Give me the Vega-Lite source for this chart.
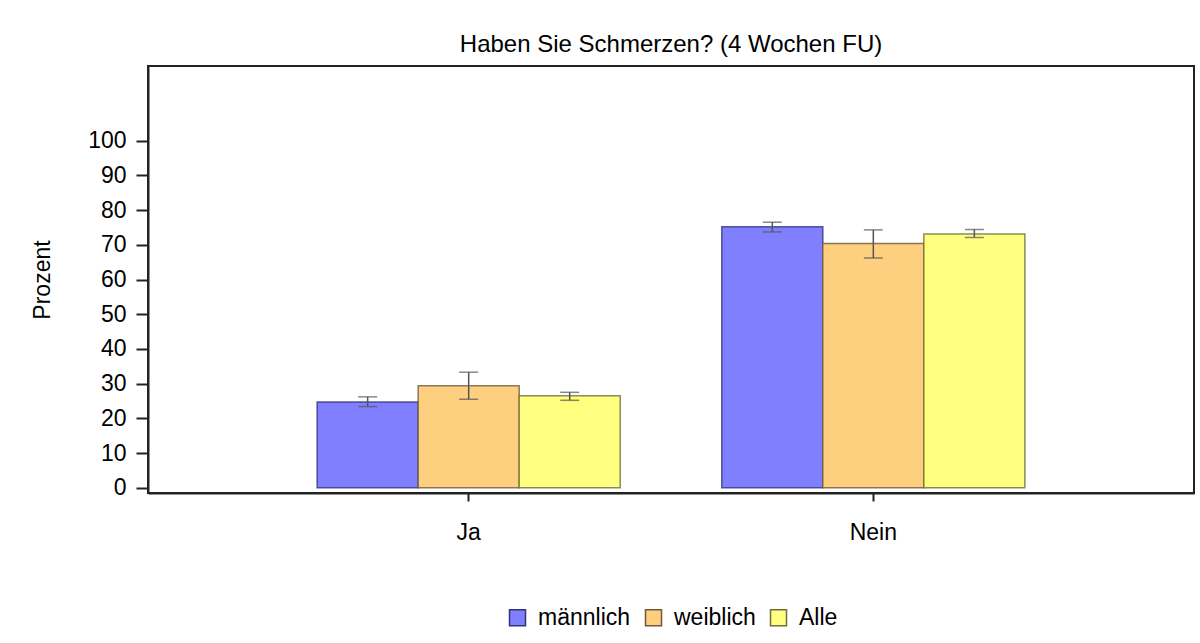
{
  "$schema": "https://vega.github.io/schema/vega-lite/v6.json",
  "width": 1046,
  "height": 427,
  "autosize": {"type": "none"},
  "padding": {"left": 148, "top": 66, "right": 6, "bottom": 150},
  "background": "white",
  "title": {"text": "Haben Sie Schmerzen? (4 Wochen FU)", "fontSize": 24, "fontWeight": "normal", "font": "Liberation Sans", "color": "black", "anchor": "middle", "offset": 9},
  "config": {
    "font": "Liberation Sans",
    "view": {"stroke": "#222", "strokeWidth": 2},
    "axis": {"labelFont": "Liberation Sans", "titleFont": "Liberation Sans", "labelColor": "black", "titleColor": "black", "domainColor": "#222", "domainWidth": 2, "tickColor": "#222", "tickWidth": 2, "grid": false}
  },
  "data": {"values": [
    {"Antwort": "Ja", "Gruppe": "männlich", "Prozent": 24.7, "lo": 23.4, "hi": 26.2},
    {"Antwort": "Ja", "Gruppe": "weiblich", "Prozent": 29.4, "lo": 25.5, "hi": 33.3},
    {"Antwort": "Ja", "Gruppe": "Alle", "Prozent": 26.5, "lo": 25.2, "hi": 27.5},
    {"Antwort": "Nein", "Gruppe": "männlich", "Prozent": 75.2, "lo": 73.7, "hi": 76.5},
    {"Antwort": "Nein", "Gruppe": "weiblich", "Prozent": 70.4, "lo": 66.2, "hi": 74.3},
    {"Antwort": "Nein", "Gruppe": "Alle", "Prozent": 73.1, "lo": 72.1, "hi": 74.4}
  ]},
  "encoding": {
    "x": {"field": "Antwort", "type": "nominal", "scale": {"paddingInner": 0.251, "paddingOuter": 0.418},
      "axis": {"title": null, "labelAngle": 0, "labelFontSize": 23, "tickSize": 8, "labelPadding": 20}},
    "xOffset": {"field": "Gruppe", "type": "nominal", "sort": ["männlich", "weiblich", "Alle"], "scale": {"paddingInner": 0, "paddingOuter": 0}}
  },
  "layer": [
    {
      "mark": {"type": "bar", "strokeWidth": 1.5, "strokeOpacity": 0.8},
      "encoding": {
        "y": {"field": "Prozent", "type": "quantitative", "scale": {"domain": [-1.5, 121.5], "nice": false, "zero": false},
          "axis": {"title": "Prozent", "values": [0, 10, 20, 30, 40, 50, 60, 70, 80, 90, 100], "labelFontSize": 23, "titleFontSize": 23, "titleFontWeight": "normal", "tickSize": 12, "labelPadding": 10, "titlePadding": 33}},
        "fill": {"field": "Gruppe", "type": "nominal", "sort": ["männlich", "weiblich", "Alle"],
          "scale": {"domain": ["männlich", "weiblich", "Alle"], "range": ["#7f7fff", "#ffcf80", "#ffff80"]},
          "legend": {"title": null, "orient": "none", "legendX": 358, "legendY": 540, "direction": "horizontal", "symbolType": "square", "symbolSize": 256, "symbolStrokeColor": "#777", "symbolStrokeWidth": 1.5, "labelFontSize": 23, "labelColor": "black", "labelOffset": 9, "columnPadding": 11, "symbolOpacity": 1}},
        "stroke": {"field": "Gruppe", "type": "nominal",
          "scale": {"domain": ["männlich", "weiblich", "Alle"], "range": ["#33337a", "#6e5a3a", "#6e6e3a"]},
          "legend": null}
      }
    },
    {
      "mark": {"type": "rule", "color": "#555", "strokeWidth": 1.5},
      "encoding": {
        "y": {"field": "lo", "type": "quantitative"},
        "y2": {"field": "hi"}
      }
    },
    {
      "mark": {"type": "tick", "color": "#555", "size": 19, "thickness": 1.5},
      "encoding": {
        "y": {"field": "lo", "type": "quantitative"}
      }
    },
    {
      "mark": {"type": "tick", "color": "#555", "size": 19, "thickness": 1.5},
      "encoding": {
        "y": {"field": "hi", "type": "quantitative"}
      }
    }
  ]
}
